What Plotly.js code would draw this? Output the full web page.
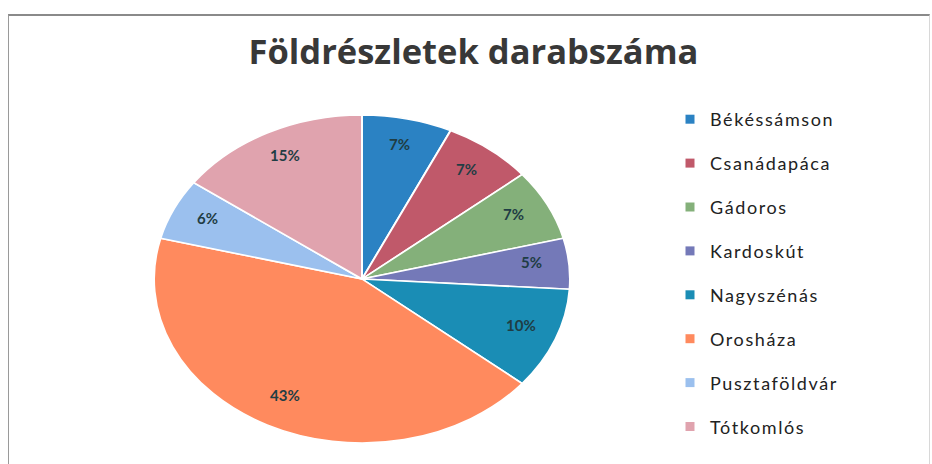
<!DOCTYPE html>
<html>
<head>
<meta charset="utf-8">
<script src="https://cdn.plot.ly/plotly-3.0.1.min.js"></script>
<style>
html,body{margin:0;padding:0;background:#fff;}
#frame{position:absolute;left:8px;top:14px;width:920px;height:460px;border-left:1px solid #9a9a9a;border-top:2px solid #8a8a8a;border-right:1px solid #d8d8d8;}
#chart{position:absolute;left:0;top:0;width:932px;height:464px;}
#chart .legendtext{letter-spacing:1.6px;}
</style>
</head>
<body>
<div id="frame"></div>
<div id="chart"></div>
<script>
const categories = ["Békéssámson","Csanádapáca","Gádoros","Kardoskút","Nagyszénás","Orosháza","Pusztaföldvár","Tótkomlós"];
const values = [7, 7, 7, 5, 10, 43, 6, 15];
const colors = ["#2B82C3","#C0596A","#84B07A","#7479B8","#1A8DB5","#FF8A5E","#9BC0EE","#E0A3AE"];
const titleText = "Földrészletek darabszáma";

const W = 932, H = 464;
const cx = 362, cyTarget = 279, rx = 208, ry = 164;
const sy = ry / rx;
const labelR = 0.82, labelCy = 275;

const pie = {
  type: 'pie',
  labels: categories,
  values: values,
  sort: false,
  direction: 'clockwise',
  rotation: 0,
  marker: {colors: colors, line: {color: '#ffffff', width: 2}},
  textinfo: 'none',
  showlegend: false,
  hoverinfo: 'none',
  domain: {x: [(cx - rx) / W, (cx + rx) / W], y: [(H/2 - rx) / H, (H/2 + rx) / H]}
};

// percentage labels placed at each slice's mid-angle (computed from the data)
const total = values.reduce((a, b) => a + b, 0);
let cum = 0;
const annotations = values.map((v, i) => {
  const mid = (cum + v / 2) / total * 2 * Math.PI;
  cum += v;
  const px = cx + labelR * rx * Math.sin(mid);
  const py = labelCy - labelR * ry * Math.cos(mid);
  return {
    text: Math.round(v / total * 100) + '%',
    x: px / W, y: 1 - py / H, xref: 'paper', yref: 'paper',
    showarrow: false, xanchor: 'center', yanchor: 'middle',
    font: {family: 'Lato, sans-serif', size: 15, color: '#1f3d44', weight: 'bold'}
  };
});

const legendTraces = categories.map((c, i) => ({
  type: 'scatter', mode: 'markers', x: [null], y: [null],
  name: c, legendgroup: c,
  marker: {symbol: 'square', size: 9, color: colors[i]},
  hoverinfo: 'none'
}));

const layout = {
  width: W, height: H,
  margin: {l: 0, r: 0, t: 0, b: 0},
  paper_bgcolor: 'rgba(0,0,0,0)',
  plot_bgcolor: 'rgba(0,0,0,0)',
  title: {text: titleText, font: {family: '"Open Sans", sans-serif', size: 34.5, color: '#383838', weight: 'bold'},
          x: 0.508, xanchor: 'center', y: 1 - 52 / H, yanchor: 'middle'},
  xaxis: {visible: false}, yaxis: {visible: false},
  showlegend: true,
  annotations: annotations,
  legend: {x: 670 / W, xanchor: 'left', y: 1 - 101 / H, yanchor: 'top',
           font: {family: 'Lato, sans-serif', size: 18, color: '#222222'},
           tracegroupgap: 17.5, bgcolor: 'rgba(0,0,0,0)'}
};

Plotly.newPlot('chart', [pie].concat(legendTraces), layout, {staticPlot: true}).then(() => {
  document.querySelectorAll('#chart .pielayer .trace').forEach(t => {
    t.setAttribute('transform', `translate(0,${cyTarget}) scale(1,${sy}) translate(0,${-H/2})`);
  });
  document.querySelectorAll('#chart .legend .scrollbox, #chart .legend').forEach(g => g.removeAttribute('clip-path'));
});
</script>
</body>
</html>
